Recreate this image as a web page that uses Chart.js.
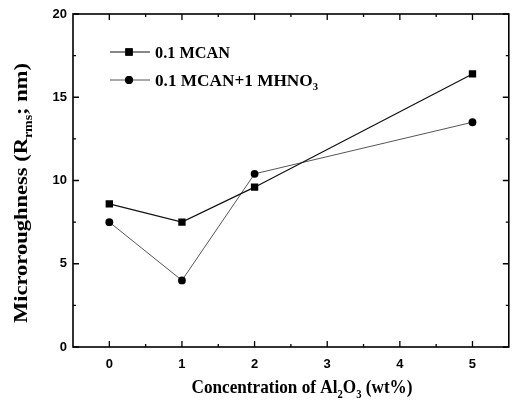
<!DOCTYPE html>
<html><head><meta charset="utf-8">
<script src="https://cdn.jsdelivr.net/npm/chart.js@4/dist/chart.umd.min.js"></script>
<style>html,body{margin:0;padding:0;background:#fff}#wrap{width:514px;height:413px}</style>
</head><body><div id="wrap"><canvas id="c" width="514" height="413"></canvas></div>
<script>
// ---- data ----
const categories = [0, 1, 2, 5];
const seriesMCAN = [8.6, 7.5, 9.6, 16.4];
const seriesMCANHNO3 = [7.5, 4.0, 10.4, 13.5];
const seriesNames = ['0.1 MCAN', '0.1 MCAN+1 MHNO'];
const xTickValues = [0, 1, 2, 3, 4, 5];
const yTickValues = [0, 5, 10, 15, 20];
const xMinorTicks = [0.5, 1.5, 2.5, 3.5, 4.5];
const yMinorTicks = [2.5, 7.5, 12.5, 17.5];

const SERIF = '"Liberation Serif", "Times New Roman", serif';

function drawRich(ctx, segs, size, x, y, targetW, rotate, align) {
  ctx.save();
  let w = 0;
  const parts = segs.map(s => {
    const fs = s.sub ? size * 0.62 : size;
    ctx.font = 'bold ' + fs + 'px ' + SERIF;
    const mw = ctx.measureText(s.t).width;
    w += mw;
    return { s, fs, mw };
  });
  const sx = targetW ? targetW / w : 1;
  ctx.translate(x, y);
  if (rotate) ctx.rotate(-Math.PI / 2);
  ctx.scale(sx, 1);
  let cx = align === 'left' ? 0 : -w / 2;
  ctx.textBaseline = 'alphabetic';
  ctx.textAlign = 'left';
  ctx.fillStyle = '#000';
  for (const p of parts) {
    ctx.font = 'bold ' + p.fs + 'px ' + SERIF;
    ctx.fillText(p.s.t, cx, p.s.sub ? size * 0.28 : 0);
    cx += p.mw;
  }
  ctx.restore();
}

const framePlugin = {
  id: 'frame',
  afterDatasetsDraw(chart) {
    const ctx = chart.ctx;
    const a = chart.chartArea;
    const xs = chart.scales.x, ys = chart.scales.y;
    ctx.save();
    ctx.strokeStyle = '#000';
    ctx.lineWidth = 1.6;
    ctx.strokeRect(a.left, a.top, a.right - a.left, a.bottom - a.top);
    ctx.lineWidth = 1.3;
    ctx.beginPath();
    const tick = (vals, len) => {
      vals.forEach(v => {
        const px = xs.getPixelForValue(v);
        ctx.moveTo(px, a.bottom); ctx.lineTo(px, a.bottom - len);
        ctx.moveTo(px, a.top); ctx.lineTo(px, a.top + len);
      });
    };
    const tickY = (vals, len) => {
      vals.forEach(v => {
        const py = ys.getPixelForValue(v);
        ctx.moveTo(a.left, py); ctx.lineTo(a.left + len, py);
        ctx.moveTo(a.right, py); ctx.lineTo(a.right - len, py);
      });
    };
    tick(xTickValues, 6); tick(xMinorTicks, 3);
    tickY(yTickValues, 6); tickY(yMinorTicks, 3);
    ctx.stroke();

    // legend
    const lx0 = 110, lx1 = 150, mx = 129, tx = 155;
    const rows = [
      { y: 52, ds: chart.data.datasets[0], segs: [{ t: seriesNames[0] }], w: 75 },
      { y: 80, ds: chart.data.datasets[1], segs: [{ t: seriesNames[1] }, { t: '3', sub: true }], w: 163 }
    ];
    rows.forEach(r => {
      ctx.strokeStyle = r.ds.borderColor;
      ctx.lineWidth = r.ds.borderWidth;
      ctx.beginPath(); ctx.moveTo(lx0, r.y); ctx.lineTo(lx1, r.y); ctx.stroke();
      ctx.fillStyle = '#000';
      Chart.helpers.drawPoint(ctx, { pointStyle: r.ds.pointStyle, radius: r.ds.pointRadius, borderWidth: 0 }, mx, r.y);
      ctx.fill();
      drawRich(ctx, r.segs, 16, tx, r.y + 5.5, r.w, false, 'left');
    });

    // axis titles
    drawRich(ctx, [{ t: 'Concentration of Al' }, { t: '2', sub: true }, { t: 'O' }, { t: '3', sub: true }, { t: ' (wt%)' }],
      19, 302, 393, 221, false);
    drawRich(ctx, [{ t: 'Microroughness (R' }, { t: 'rms', sub: true }, { t: '; nm)' }],
      19, 27, 193, 260, true);
    ctx.restore();
  }
};

const tickFont = { family: '"Liberation Sans", Arial, sans-serif', weight: 'bold', size: 13 };

new Chart(document.getElementById('c'), {
  type: 'line',
  data: {
    datasets: [
      {
        label: seriesNames[0],
        data: categories.map((c, i) => ({ x: c, y: seriesMCAN[i] })),
        borderColor: '#111', borderWidth: 1.2,
        pointStyle: 'rect', pointRadius: 5.2,
        pointBackgroundColor: '#000', pointBorderWidth: 0,
        tension: 0, fill: false
      },
      {
        label: seriesNames[1] + '3',
        data: categories.map((c, i) => ({ x: c, y: seriesMCANHNO3[i] })),
        borderColor: '#555', borderWidth: 1,
        pointStyle: 'circle', pointRadius: 3.9,
        pointBackgroundColor: '#000', pointBorderWidth: 0,
        tension: 0, fill: false
      }
    ]
  },
  options: {
    responsive: false,
    animation: false,
    layout: { padding: { top: 14, right: 2, left: 0, bottom: 0 } },
    plugins: { legend: { display: false }, tooltip: { enabled: false } },
    scales: {
      x: {
        type: 'linear', min: -0.5, max: 5.5,
        grid: { display: false, drawTicks: false },
        border: { display: false },
        afterBuildTicks: s => { s.ticks = xTickValues.map(v => ({ value: v })); },
        afterFit: s => { s.height = 66; },
        ticks: { font: tickFont, color: '#000', padding: 10, maxRotation: 0 }
      },
      y: {
        type: 'linear', min: 0, max: 20,
        grid: { display: false, drawTicks: false },
        border: { display: false },
        afterBuildTicks: s => { s.ticks = yTickValues.map(v => ({ value: v })); },
        afterFit: s => { s.width = 73; },
        ticks: { font: tickFont, color: '#000', padding: 6 }
      }
    }
  },
  plugins: [framePlugin]
});
</script>
</body></html>
